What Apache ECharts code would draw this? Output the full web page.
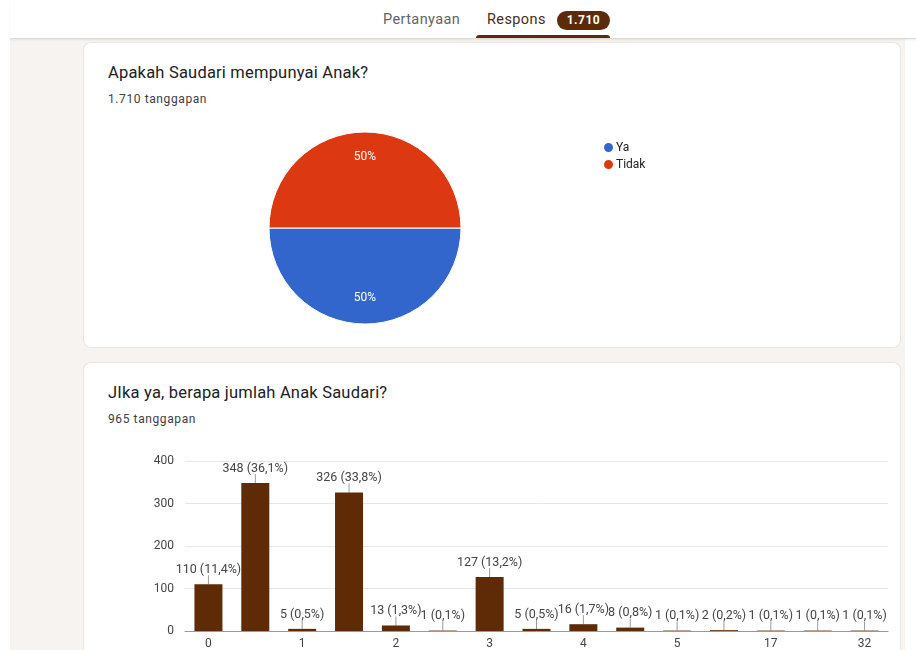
<!DOCTYPE html>
<html>
<head>
<meta charset="utf-8">
<script src="https://cdn.jsdelivr.net/npm/echarts@6/dist/echarts.min.js"></script>
<style>
  html, body { margin: 0; padding: 0; width: 916px; height: 650px; overflow: hidden; background: #fff; font-family: Roboto, "Noto Sans", sans-serif; }
  .page { position: absolute; left: 10px; top: 39px; width: 895px; height: 611px; background: #f6f3f1; }
  .header { position: absolute; left: 10px; top: 0; width: 906px; height: 38px; background: #fff; border-bottom: 1px solid #dcdad8; box-shadow: 0 1px 2px rgba(0,0,0,0.08); }
  .tab { position: absolute; top: 11px; font-size: 14.5px; letter-spacing: 0.4px; }
  .tab1 { color: #5f6368; }
  .tab2 { color: #4a2c17; }
  .badge { position: absolute; top: 11px; width: 53px; height: 19px; border-radius: 10px; background: #5c2b0c; color: #fff; font-size: 12px; font-weight: bold; text-align: center; line-height: 19px; letter-spacing: 0.5px; }
  .underline { position: absolute; top: 35px; width: 134px; height: 3px; border-radius: 3px 3px 0 0; background: #5c2b0c; }
  .card { position: absolute; left: 83px; width: 816px; background: #fff; border: 1px solid #e9e5e1; border-radius: 8px; }
  .title { position: absolute; left: 24px; font-size: 16.5px; color: #202124; letter-spacing: 0.2px; }
  .sub { position: absolute; left: 24px; font-size: 12px; color: #3c4043; letter-spacing: 0.6px; }
  #chart { position: absolute; left: 0; top: 0; width: 916px; height: 650px; }
</style>
</head>
<body>
<div class="page"></div>
<div class="header">
  <div class="tab tab1" style="left:373px">Pertanyaan</div>
  <div class="tab tab2" style="left:477px">Respons</div>
  <div class="badge" style="left:547px">1.710</div>
  <div class="underline" style="left:466px"></div>
</div>
<div class="card" style="top:42px;height:304px">
  <div class="title" style="top:20px">Apakah Saudari mempunyai Anak?</div>
  <div class="sub" style="top:49px">1.710 tanggapan</div>
</div>
<div class="card" style="top:362px;height:310px">
  <div class="title" style="top:20px">JIka ya, berapa jumlah Anak Saudari?</div>
  <div class="sub" style="top:49px">965 tanggapan</div>
</div>
<div id="chart"></div>
<script>
// pertanyaan 1
const pieNames = ['Ya', 'Tidak'];
const pieValues = [855, 855];
const pieColors = ['#3366cc', '#dc3912'];

// pertanyaan 2
const barCategories = ['0', '1 ', '1', '2 ', '2', '3 ', '3', '4 ', '4', '5 ', '5', '6', '17', '20', '32'];
const barValues = [110, 348, 5, 326, 13, 1, 127, 5, 16, 8, 1, 2, 1, 1, 1];
const yTicks = [0, 100, 200, 300, 400];

const barTotal = barValues.reduce((a, b) => a + b, 0);
const pct = v => (v / barTotal * 100).toFixed(1).replace('.', ',');

const chart = echarts.init(document.getElementById('chart'));

const option = {
    backgroundColor: 'transparent',
    animation: false,
    legend: {
        data: pieNames,
        orient: 'vertical',
        left: 597,
        top: 136,
        icon: 'circle',
        itemWidth: 11,
        itemHeight: 11,
        itemGap: 4,
        textStyle: { fontSize: 12, color: '#222', fontFamily: 'Roboto', padding: [0, 0, 0, -3] }
    },
    grid: {
        left: 185,
        right: 28,
        top: 461,
        bottom: 15,
        containLabel: false
    },
    xAxis: {
        type: 'category',
        data: barCategories,
        axisTick: { show: false },
        axisLine: { lineStyle: { color: '#999' } },
        axisLabel: {
            interval: 1,
            margin: 7,
            fontSize: 12,
            color: '#444',
            fontFamily: 'Roboto',
            formatter: v => v.trim()
        }
    },
    yAxis: {
        type: 'value',
        min: yTicks[0],
        max: yTicks[yTicks.length - 1],
        interval: 100,
        axisLine: { show: false },
        axisTick: { show: false },
        axisLabel: { margin: 11, fontSize: 12, color: '#444', fontFamily: 'Roboto' },
        splitLine: { lineStyle: { color: '#e6e6e6' } }
    },
    series: [
        {
            type: 'pie',
            center: [365, 228],
            radius: 96,
            startAngle: 0,
            clockwise: true,
            data: pieNames.map((n, i) => ({
                name: n,
                value: pieValues[i],
                itemStyle: { color: pieColors[i] },
                label: { offset: [0, i === 0 ? 19 : -20] }
            })),
            itemStyle: { borderColor: '#fff', borderWidth: 1 },
            label: {
                show: true,
                position: 'inside',
                formatter: p => Math.round(p.percent) + '%',
                color: '#fff',
                fontSize: 12,
                fontFamily: 'Roboto'
            },
            labelLine: { show: false },
            emphasis: { disabled: true }
        },
        {
            type: 'bar',
            data: barValues,
            barWidth: 28,
            itemStyle: { color: '#5f2b07' },
            label: {
                show: true,
                position: 'top',
                distance: 8,
                fontSize: 12.5,
                color: '#444',
                fontFamily: 'Roboto',
                formatter: p => p.value + ' (' + pct(p.value) + '%)'
            },
            z: 3
        },
        {
            // garis penunjuk label
            type: 'custom',
            data: barValues.map((v, i) => [i, v]),
            encode: { x: 0, y: 1 },
            renderItem: (params, api) => {
                const p = api.coord([api.value(0), api.value(1)]);
                return {
                    type: 'line',
                    shape: { x1: p[0], y1: p[1], x2: p[0], y2: p[1] - 9 },
                    style: { stroke: '#9a9a9a', lineWidth: 1 }
                };
            },
            z: 2
        }
    ]
};

chart.setOption(option);
</script>
</body>
</html>
